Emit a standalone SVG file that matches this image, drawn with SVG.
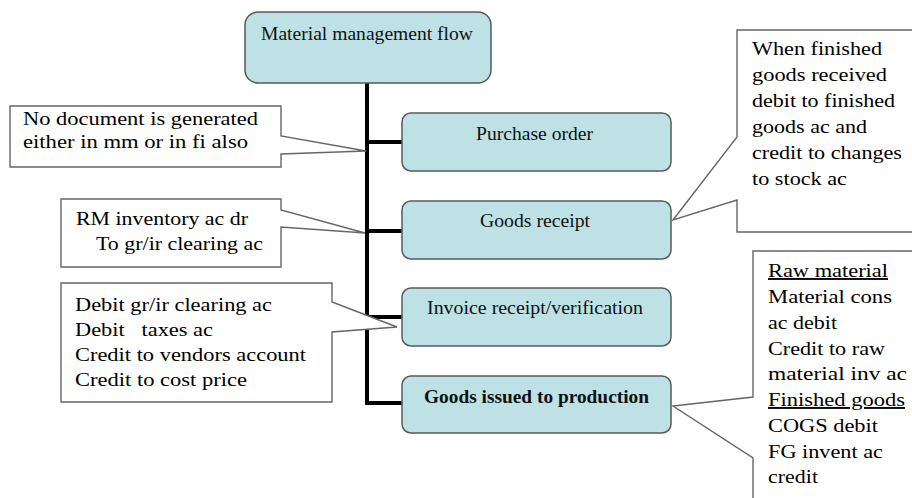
<svg xmlns="http://www.w3.org/2000/svg" width="912" height="498" viewBox="0 0 912 498">
<style>
.node{fill:#bde1e4;stroke:#5a5a5a;stroke-width:1.5}
.nt{font-family:"Liberation Serif","Times New Roman",serif;font-size:19px;fill:#111;text-anchor:start}
.call{fill:#fff;stroke:#666;stroke-width:1.4;stroke-linejoin:miter}
.ct{font-family:"Liberation Serif","Times New Roman",serif;font-size:19px;fill:#000}
.conn{fill:none;stroke:#000;stroke-width:4;stroke-linejoin:miter}
</style>
<rect width="912" height="498" fill="#fff"/>
<g id="connectors">
<path class="conn" d="M367,83 V403 H402"/>
<path class="conn" d="M367,142 H402"/>
<path class="conn" d="M367,231 H402"/>
<path class="conn" d="M367,317 H402"/>
</g>
<g id="node-material-management-flow">
<rect class="node" x="245" y="12" width="246" height="71" rx="13"/>
<text class="nt" x="261" y="40" textLength="212" lengthAdjust="spacingAndGlyphs">Material management flow</text>
</g>
<g id="node-purchase-order">
<rect class="node" x="402" y="113" width="269" height="58" rx="9"/>
<text class="nt" x="476" y="140" textLength="117" lengthAdjust="spacingAndGlyphs">Purchase order</text>
</g>
<g id="node-goods-receipt">
<rect class="node" x="402" y="201" width="269" height="58" rx="9"/>
<text class="nt" x="480" y="227" textLength="110" lengthAdjust="spacingAndGlyphs">Goods receipt</text>
</g>
<g id="node-invoice-receipt">
<rect class="node" x="402" y="288" width="269" height="58" rx="9"/>
<text class="nt" x="427" y="314" textLength="216" lengthAdjust="spacingAndGlyphs">Invoice receipt/verification</text>
</g>
<g id="node-goods-issued">
<rect class="node" x="402" y="376" width="269" height="57" rx="9"/>
<text class="nt" x="424" y="403" font-weight="bold" textLength="225" lengthAdjust="spacingAndGlyphs">Goods issued to production</text>
</g>
<g id="callout-no-document">
<path class="call" d="M10,106 H281 V136 L366,151 L281,154 V167 H10 Z"/>
<text class="ct" x="23" y="125" textLength="235" lengthAdjust="spacingAndGlyphs">No document is generated</text>
<text class="ct" x="23" y="148" textLength="225" lengthAdjust="spacingAndGlyphs">either in mm or in fi also</text>
</g>
<g id="callout-rm-inventory">
<path class="call" d="M61,199 H281 V210 L365,233 L281,227 V267 H61 Z"/>
<text class="ct" x="76" y="225" textLength="172" lengthAdjust="spacingAndGlyphs">RM inventory ac dr</text>
<text class="ct" x="96" y="250" textLength="167" lengthAdjust="spacingAndGlyphs">To gr/ir clearing ac</text>
</g>
<g id="callout-debit-grir">
<path class="call" d="M61,283 H332 V302 L397,327 L332,332 V402 H61 Z"/>
<text class="ct" x="75" y="311" textLength="197" lengthAdjust="spacingAndGlyphs">Debit gr/ir clearing ac</text>
<text class="ct" x="75" y="336" textLength="138" lengthAdjust="spacingAndGlyphs" xml:space="preserve">Debit   taxes ac</text>
<text class="ct" x="75" y="361" textLength="231" lengthAdjust="spacingAndGlyphs">Credit to vendors account</text>
<text class="ct" x="75" y="386" textLength="172" lengthAdjust="spacingAndGlyphs">Credit to cost price</text>
</g>
<g id="callout-finished-goods-received">
<path class="call" d="M737,30 H918 V232 H737 V200 L673,220 L737,137 Z"/>
<text class="ct" x="752" y="55" textLength="130" lengthAdjust="spacingAndGlyphs">When finished</text>
<text class="ct" x="752" y="81" textLength="135" lengthAdjust="spacingAndGlyphs">goods received</text>
<text class="ct" x="752" y="107" textLength="143" lengthAdjust="spacingAndGlyphs">debit to finished</text>
<text class="ct" x="752" y="133" textLength="115" lengthAdjust="spacingAndGlyphs">goods ac and</text>
<text class="ct" x="752" y="159" textLength="150" lengthAdjust="spacingAndGlyphs">credit to changes</text>
<text class="ct" x="752" y="185" textLength="95" lengthAdjust="spacingAndGlyphs">to stock ac</text>
</g>
<g id="callout-goods-issued">
<path class="call" d="M918,251 H753 V397 L673,406 L753,458 V505 H918 Z"/>
<text class="ct" x="768" y="277" text-decoration="underline" textLength="120" lengthAdjust="spacingAndGlyphs">Raw material</text>
<text class="ct" x="768" y="303" textLength="124" lengthAdjust="spacingAndGlyphs">Material cons</text>
<text class="ct" x="768" y="328.5" textLength="69" lengthAdjust="spacingAndGlyphs">ac debit</text>
<text class="ct" x="768" y="354.5" textLength="117" lengthAdjust="spacingAndGlyphs">Credit to raw</text>
<text class="ct" x="768" y="380" textLength="139" lengthAdjust="spacingAndGlyphs">material inv ac</text>
<text class="ct" x="768" y="406" text-decoration="underline" textLength="137" lengthAdjust="spacingAndGlyphs">Finished goods</text>
<text class="ct" x="768" y="432" textLength="110" lengthAdjust="spacingAndGlyphs">COGS debit</text>
<text class="ct" x="768" y="457.5" textLength="115" lengthAdjust="spacingAndGlyphs">FG invent ac</text>
<text class="ct" x="768" y="483" textLength="50" lengthAdjust="spacingAndGlyphs">credit</text>
</g>
</svg>
